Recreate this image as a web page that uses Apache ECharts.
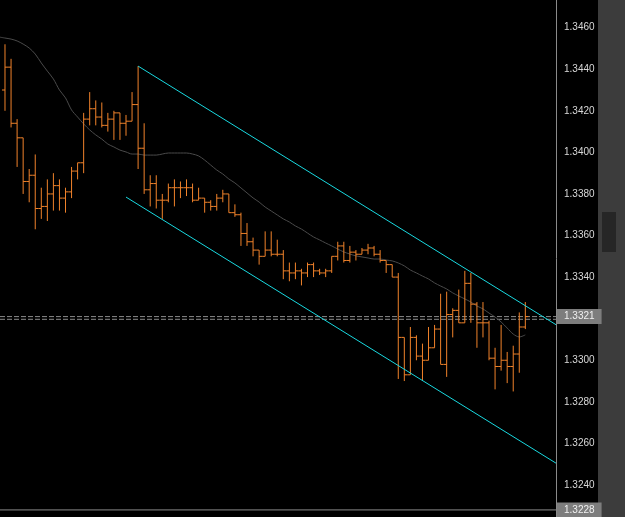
<!DOCTYPE html>
<html>
<head>
<meta charset="utf-8">
<script src="https://cdn.jsdelivr.net/npm/echarts@6/dist/echarts.min.js"></script>
<style>
  html, body { margin: 0; padding: 0; background: #000; }
  #chart { width: 625px; height: 517px; }
</style>
</head>
<body>
<div id="chart"></div>
<script>
// OHLC bars, one entry per bar
var opens = [1.3430,1.3441,1.3414,1.3407,1.3386,1.3389,1.3373,1.3374,1.3380,1.3384,
  1.3378,1.3381,1.3391,1.3395,1.3416,1.3421,1.3417,1.3413,1.3416,1.3419,
  1.3414,1.3415,1.3423,1.3402,1.3382,1.3385,1.3377,1.3377,1.3383,1.3383,
  1.3383,1.3383,1.3377,1.3378,1.3376,1.3374,1.3378,1.3380,1.3371,1.3370,
  1.3361,1.3357,1.3353,1.3350,1.3353,1.3351,1.3351,1.3343,1.3342,1.3343,
  1.3342,1.3346,1.3343,1.3342,1.3343,1.3350,1.3355,1.3348,1.3352,1.3351,
  1.3353,1.3354,1.3351,1.3348,1.3346,1.3340,1.3311,1.3293,1.3311,1.3302,
  1.3300,1.3306,1.3315,1.3298,1.3322,1.3324,1.3318,1.3337,1.3327,1.3318,
  1.3318,1.3301,1.3297,1.3300,1.3297,1.3303,1.3316];
var highs = [1.3452,1.3445,1.3416,1.3407,1.3392,1.3399,1.3383,1.3387,1.3390,1.3387,
  1.3383,1.3393,1.3395,1.3419,1.3429,1.3425,1.3424,1.3419,1.3420,1.3419,
  1.3418,1.3429,1.34415,1.3414,1.3389,1.3389,1.3380,1.3385,1.3387,1.3386,
  1.3387,1.3385,1.3383,1.3378,1.3377,1.3380,1.3382,1.3380,1.3375,1.3371,
  1.3366,1.3359,1.3353,1.3362,1.3362,1.3358,1.3353,1.3347,1.3347,1.3344,
  1.3347,1.3347,1.3344,1.3344,1.3350,1.3357,1.3357,1.3355,1.3353,1.3354,
  1.3356,1.3355,1.3353,1.3348,1.3346,1.3342,1.3311,1.3316,1.3312,1.3308,
  1.3316,1.3317,1.3332,1.3333,1.3325,1.3334,1.3343,1.3342,1.3328,1.3328,
  1.3319,1.3306,1.3317,1.3304,1.3307,1.3323,1.3328];
var lows = [1.3420,1.3412,1.3393,1.3380,1.3376,1.3363,1.3368,1.3367,1.3372,1.3372,
  1.3371,1.3378,1.3387,1.3390,1.3413,1.3413,1.3412,1.3410,1.3406,1.3406,
  1.3408,1.3415,1.3392,1.3380,1.3374,1.3373,1.3368,1.3376,1.3374,1.3378,
  1.3379,1.3376,1.3377,1.3371,1.3372,1.3372,1.3376,1.3371,1.3369,1.3355,
  1.3355,1.3350,1.3346,1.3350,1.3350,1.3350,1.3339,1.3338,1.3339,1.3336,
  1.3340,1.3340,1.3341,1.3340,1.3342,1.3348,1.3347,1.3347,1.3348,1.3351,
  1.3351,1.3350,1.3347,1.3342,1.3340,1.3291,1.3290,1.3293,1.3300,1.3290,
  1.3300,1.3306,1.3298,1.3292,1.3311,1.3318,1.3318,1.3318,1.3306,1.3311,
  1.3300,1.3286,1.3295,1.3289,1.3285,1.3294,1.3315];
var closes = [1.3441,1.3414,1.3407,1.3386,1.3389,1.3373,1.3374,1.3380,1.3384,1.3378,
  1.3381,1.3391,1.3395,1.3416,1.3421,1.3417,1.3413,1.3416,1.3419,1.3414,
  1.3415,1.3423,1.3402,1.3382,1.3385,1.3377,1.3377,1.3383,1.3383,1.3383,
  1.3383,1.3377,1.3378,1.3376,1.3374,1.3378,1.3380,1.3371,1.3370,1.3361,
  1.3357,1.3353,1.3350,1.3353,1.3351,1.3351,1.3343,1.3342,1.3343,1.3342,
  1.3346,1.3343,1.3342,1.3343,1.3350,1.3355,1.3348,1.3352,1.3351,1.3353,
  1.3354,1.3351,1.3348,1.3346,1.3340,1.3311,1.3293,1.3311,1.3302,1.3300,
  1.3306,1.3315,1.3298,1.3322,1.3324,1.3318,1.3337,1.3327,1.3318,1.3318,
  1.3301,1.3297,1.3300,1.3297,1.3303,1.3316,1.3321];

// moving average, one value per bar (first value is at the left edge)
var maStart = [-1, 1.34555];
var maValues = [1.34550,1.34545,1.34536,1.34521,1.34502,1.34473,1.34430,1.34391,1.34353,1.34300,
  1.34262,1.34204,1.34170,1.34137,1.34108,1.34084,1.34064,1.34040,1.34026,1.34011,
  1.34002,1.33992,1.33992,1.33987,1.33987,1.33987,1.33992,1.33997,1.33997,1.33997,
  1.33997,1.33992,1.33983,1.33963,1.33939,1.33915,1.33896,1.33872,1.33853,1.33829,
  1.33805,1.33781,1.33761,1.33737,1.33718,1.33699,1.33680,1.33665,1.33646,1.33631,
  1.33612,1.33593,1.33579,1.33564,1.33550,1.33535,1.33521,1.33511,1.33502,1.33497,
  1.33492,1.33487,1.33487,1.33482,1.33478,1.33468,1.33454,1.33434,1.33420,1.33405,
  1.33391,1.33372,1.33357,1.33343,1.33324,1.33309,1.33295,1.33280,1.33261,1.33247,
  1.33227,1.33208,1.33184,1.33155,1.33126,1.33112,1.33122];

// channel lines [bar index, price]
var upperChannel = [[22, 1.34415], [91.07, 1.33171]];
var lowerChannel = [[20, 1.33785], [91.07, 1.32505]];

var tickLabels = [1.3240,1.3260,1.3280,1.3300,1.3340,1.3360,1.3380,1.3400,1.3420,1.3440,1.3460];
var bidPrice = 1.3321;
var askPrice = 1.33197;
var lowPrice = 1.3228;

var xMin = -0.826, xMax = 91.07;
var barColor = '#f0822a';
var chart = echarts.init(document.getElementById('chart'));

var ohlcData = opens.map(function (o, i) {
  return [i, o, highs[i], lows[i], closes[i]];
});
var maData = [maStart].concat(maValues.map(function (v, i) { return [i, v]; }));

function renderBar(params, api) {
  var x = api.value(0);
  var pO = api.coord([x, api.value(1)]);
  var pH = api.coord([x, api.value(2)]);
  var pL = api.coord([x, api.value(3)]);
  var pC = api.coord([x, api.value(4)]);
  var style = { stroke: barColor, lineWidth: 1 };
  return {
    type: 'group',
    children: [
      { type: 'line', shape: { x1: pH[0], y1: pH[1], x2: pL[0], y2: pL[1] }, style: style },
      { type: 'line', shape: { x1: pO[0] - 3, y1: pO[1], x2: pO[0], y2: pO[1] }, style: style },
      { type: 'line', shape: { x1: pC[0], y1: pC[1], x2: pC[0] + 3, y2: pC[1] }, style: style }
    ]
  };
}

function priceLine(price, dashed, withLabel) {
  return {
    type: 'line',
    data: [[xMin, price], [xMax, price]],
    showSymbol: false,
    silent: true,
    lineStyle: { color: '#8a8a8a', width: 1, type: dashed ? [5, 2] : 'solid' },
    endLabel: {
      show: withLabel,
      distance: 1,
      formatter: function () { return price.toFixed(4); },
      color: '#f0f0f0',
      backgroundColor: '#7d7d7d',
      fontFamily: 'Liberation Sans',
      fontSize: 10,
      lineHeight: 12,
      padding: [2, 7, 1, 7]
    },
    z: 1
  };
}

var option = {
  backgroundColor: '#000',
  animation: false,
  grid: { left: 0, right: 69, top: 0, bottom: 0 },
  xAxis: {
    type: 'value',
    min: xMin,
    max: xMax,
    show: false
  },
  yAxis: {
    type: 'value',
    position: 'right',
    min: 1.32246,
    max: 1.34733,
    axisLine: { show: true, onZero: false, lineStyle: { color: '#8a8a8a', width: 1 } },
    axisTick: { show: false },
    splitLine: { show: false },
    axisLabel: {
      customValues: tickLabels,
      formatter: function (v) { return v.toFixed(4); },
      color: '#d8d8d8',
      fontFamily: 'Liberation Sans',
      fontSize: 10,
      padding: [3, 0, 0, 0],
      margin: 8
    }
  },
  graphic: [
    { type: 'rect', shape: { x: 598, y: 0, width: 27, height: 517 }, style: { fill: '#3c3c3c' } },
    { type: 'rect', shape: { x: 602, y: 212, width: 14, height: 40 }, style: { fill: '#262626' } }
  ],
  series: [
    priceLine(bidPrice, true, true),
    priceLine(askPrice, true, false),
    priceLine(lowPrice, false, true),
    {
      type: 'line',
      data: maData,
      showSymbol: false,
      smooth: 0.3,
      lineStyle: { color: '#4a4a4a', width: 1 },
      z: 2
    },
    {
      type: 'custom',
      renderItem: renderBar,
      data: ohlcData,
      encode: { x: 0, y: [1, 2, 3, 4] },
      z: 3
    },
    {
      type: 'line',
      data: upperChannel,
      showSymbol: false,
      lineStyle: { color: '#19d9e0', width: 1 },
      z: 4
    },
    {
      type: 'line',
      data: lowerChannel,
      showSymbol: false,
      lineStyle: { color: '#19d9e0', width: 1 },
      z: 4
    }
  ]
};

chart.setOption(option);
</script>
</body>
</html>
